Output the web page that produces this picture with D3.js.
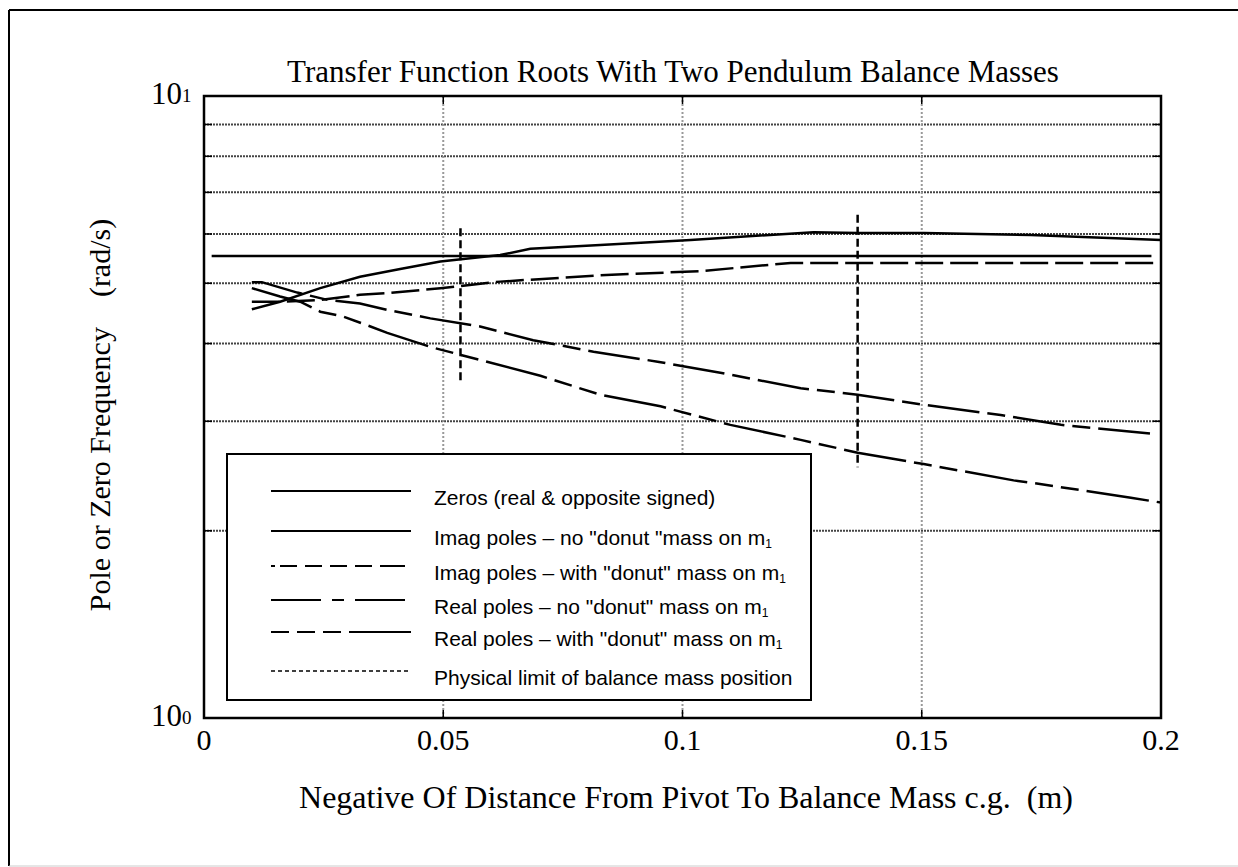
<!DOCTYPE html>
<html>
<head>
<meta charset="utf-8">
<script src="https://cdn.jsdelivr.net/npm/d3@7"></script>
<style>
  body { margin: 0; background: #fff; }
  text { white-space: pre; }
</style>
</head>
<body>
<div id="chart"></div>
<script>
// AXIS TICKS
var xTicks = [0, 0.05, 0.1, 0.15, 0.2];
var xTickLabels = ["0", "0.05", "0.1", "0.15", "0.2"];
var yMajor = [1, 10];
var yMajorExp = ["0", "1"];
var yMinor = [2, 3, 4, 5, 6, 7, 8, 9];

// ZEROS (REAL & OPPOSITE SIGNED)
var zerosX = [0.0016, 0.198];
var zerosY = [5.53, 5.53];

// IMAG POLES - NO DONUT
var imagNoDonutX = [0.0100, 0.0159, 0.0243, 0.0326, 0.0410, 0.0494, 0.0619, 0.0682, 0.0828, 0.1017, 0.1274, 0.1366, 0.1504, 0.1728, 0.2];
var imagNoDonutY = [4.54, 4.67, 4.91, 5.12, 5.27, 5.42, 5.55, 5.68, 5.76, 5.87, 6.04, 6.02, 6.02, 5.98, 5.87];

// IMAG POLES - WITH DONUT
var imagDonutX = [0.0100, 0.0159, 0.0243, 0.0326, 0.0383, 0.0494, 0.0619, 0.0828, 0.1038, 0.1226, 0.2];
var imagDonutY = [4.67, 4.67, 4.70, 4.79, 4.82, 4.91, 5.03, 5.15, 5.23, 5.39, 5.39];

// REAL POLES - NO DONUT
var realNoDonutX = [0.0100, 0.0121, 0.0195, 0.0259, 0.0326, 0.0383, 0.0473, 0.0577, 0.0688, 0.0814, 0.0948, 0.1079, 0.1247, 0.1366, 0.1502, 0.1665, 0.1791, 0.199];
var realNoDonutY = [5.02, 5.02, 4.83, 4.70, 4.64, 4.53, 4.39, 4.26, 4.05, 3.88, 3.74, 3.59, 3.39, 3.31, 3.19, 3.07, 2.96, 2.86];

// REAL POLES - WITH DONUT
var realDonutX = [0.0100, 0.0159, 0.0201, 0.0243, 0.0291, 0.0341, 0.0383, 0.0473, 0.0703, 0.0828, 0.0954, 0.1100, 0.1247, 0.1366, 0.1504, 0.1692, 0.1728, 0.1937, 0.2];
var realDonutY = [4.91, 4.76, 4.67, 4.50, 4.42, 4.28, 4.16, 3.95, 3.55, 3.31, 3.17, 2.96, 2.80, 2.67, 2.56, 2.41, 2.39, 2.26, 2.22];

// PHYSICAL LIMIT OF BALANCE MASS POSITION
var limitX = [0.0536, 0.1366];
var limitLow = [3.47, 2.53];
var limitHigh = [6.13, 6.44];

var legendLabels = [
  "Zeros (real & opposite signed)",
  "Imag poles \u2013 no \"donut \"mass on m",
  "Imag poles \u2013 with \"donut\" mass on m",
  "Real poles \u2013 no \"donut\" mass on m",
  "Real poles \u2013 with \"donut\" mass on m",
  "Physical limit of balance mass position"
];

var width = 1238,
    height = 867;

var serif = "Liberation Serif, Times New Roman, serif";

var svg = d3.select("#chart").append("svg")
  .attr("width", width)
  .attr("height", height);

svg.append("rect").attr("width", width).attr("height", height).attr("fill", "#fff");

// OUTER FRAME
svg.append("line").attr("x1", 9).attr("y1", 10).attr("x2", width).attr("y2", 10)
  .attr("stroke", "#000").attr("stroke-width", 2);
svg.append("line").attr("x1", 9).attr("y1", 10).attr("x2", 9).attr("y2", 866)
  .attr("stroke", "#000").attr("stroke-width", 2);
svg.append("line").attr("x1", 9).attr("y1", 866).attr("x2", width).attr("y2", 866)
  .attr("stroke", "#ccc").attr("stroke-width", 1);

var xScale = d3.scaleLinear().domain([0, 0.2]).range([204, 1161]);
var yScale = d3.scaleLog().domain([1, 10]).range([718, 96]);

// GRID
svg.append("g").selectAll("line")
  .data(yMinor).enter().append("line")
  .attr("x1", xScale(0)).attr("x2", xScale(0.2))
  .attr("y1", function(d){ return yScale(d); })
  .attr("y2", function(d){ return yScale(d); })
  .attr("stroke", "#444").attr("stroke-width", 2)
  .attr("stroke-dasharray", "2,1");

svg.append("g").selectAll("line")
  .data(xTicks.slice(1, 4)).enter().append("line")
  .attr("x1", function(d){ return xScale(d); })
  .attr("x2", function(d){ return xScale(d); })
  .attr("y1", yScale(1)).attr("y2", yScale(10))
  .attr("stroke", "#999").attr("stroke-width", 2)
  .attr("stroke-dasharray", "2,2");

// TICKS INSIDE THE BOX
var tickG = svg.append("g").attr("stroke", "#000").attr("stroke-width", 1.5);
yMinor.forEach(function(v){
  tickG.append("line").attr("x1", xScale(0)).attr("x2", xScale(0) + 8)
    .attr("y1", yScale(v)).attr("y2", yScale(v));
  tickG.append("line").attr("x1", xScale(0.2)).attr("x2", xScale(0.2) - 8)
    .attr("y1", yScale(v)).attr("y2", yScale(v));
});
xTicks.forEach(function(v){
  tickG.append("line").attr("x1", xScale(v)).attr("x2", xScale(v))
    .attr("y1", yScale(1)).attr("y2", yScale(1) - 8);
  tickG.append("line").attr("x1", xScale(v)).attr("x2", xScale(v))
    .attr("y1", yScale(10)).attr("y2", yScale(10) + 8);
});

// DATA LINES
var line = d3.line()
  .x(function(d){ return xScale(d[0]); })
  .y(function(d){ return yScale(d[1]); });

function pairs(xs, ys){
  return xs.map(function(x, i){ return [x, ys[i]]; });
}

var series = [
  {data: pairs(zerosX, zerosY), dash: null},
  {data: pairs(imagNoDonutX, imagNoDonutY), dash: null},
  {data: pairs(imagDonutX, imagDonutY), dash: "28,7"},
  {data: pairs(realNoDonutX, realNoDonutY), dash: "52,8,18,8"},
  {data: pairs(realDonutX, realDonutY), dash: "63,8,18,8,18,8"}
];

svg.append("g").selectAll("path")
  .data(series).enter().append("path")
  .attr("d", function(d){ return line(d.data); })
  .attr("fill", "none")
  .attr("stroke", "#000")
  .attr("stroke-width", 2.5)
  .attr("stroke-dasharray", function(d){ return d.dash; });

svg.append("g").selectAll("line")
  .data(limitX).enter().append("line")
  .attr("x1", function(d){ return xScale(d); })
  .attr("x2", function(d){ return xScale(d); })
  .attr("y1", function(d, i){ return yScale(limitHigh[i]); })
  .attr("y2", function(d, i){ return yScale(limitLow[i]); })
  .attr("stroke", "#000").attr("stroke-width", 2.5)
  .attr("stroke-dasharray", "8,4");

// AXES BOX
svg.append("rect")
  .attr("x", xScale(0)).attr("y", yScale(10))
  .attr("width", xScale(0.2) - xScale(0))
  .attr("height", yScale(1) - yScale(10))
  .attr("fill", "none").attr("stroke", "#000").attr("stroke-width", 2.5);

// TICK LABELS
svg.append("g").selectAll("text")
  .data(xTicks).enter().append("text")
  .attr("x", function(d){ return xScale(d); })
  .attr("y", 750)
  .attr("text-anchor", "middle")
  .attr("font-family", serif)
  .attr("font-size", 30)
  .text(function(d, i){ return xTickLabels[i]; });

var yLab = svg.append("g").selectAll("text")
  .data(yMajor).enter().append("text")
  .attr("x", 151)
  .attr("y", function(d){ return yScale(d) + 8; })
  .attr("font-family", serif)
  .attr("font-size", 31);
yLab.append("tspan").text("10");
yLab.append("tspan").attr("font-size", 19).attr("dy", -2)
  .text(function(d, i){ return yMajorExp[i]; });

// TITLE AND AXIS LABELS
svg.append("text")
  .attr("x", 673).attr("y", 82)
  .attr("text-anchor", "middle")
  .attr("font-family", serif)
  .attr("font-size", 31)
  .text("Transfer Function Roots With Two Pendulum Balance Masses");

svg.append("text")
  .attr("x", 686).attr("y", 808)
  .attr("text-anchor", "middle")
  .attr("font-family", serif)
  .attr("font-size", 32)
  .text("Negative Of Distance From Pivot To Balance Mass c.g.  (m)");

svg.append("text")
  .attr("transform", "translate(110,415) rotate(-90)")
  .attr("text-anchor", "middle")
  .attr("font-family", serif)
  .attr("font-size", 30)
  .text("Pole or Zero Frequency    (rad/s)");

// LEGEND
var legend = svg.append("g");
legend.append("rect")
  .attr("x", 227).attr("y", 454)
  .attr("width", 584).attr("height", 246)
  .attr("fill", "#fff").attr("stroke", "#000").attr("stroke-width", 2);

var legendRows = [491, 531, 566, 600, 632, 671];
var legendDash = [null, null, "4,5,17,8,17,8,17,8,17,8,25,8", "50,11,12,11", "18,8,18,8,18,8,63,8", "4,3"];
var legendWidth = [2, 2, 2, 2, 2, 1.5];

legendRows.forEach(function(y, i){
  legend.append("line")
    .attr("x1", 271).attr("x2", 411)
    .attr("y1", y).attr("y2", y)
    .attr("stroke", "#000")
    .attr("stroke-width", legendWidth[i])
    .attr("stroke-dasharray", legendDash[i]);
  var t = legend.append("text")
    .attr("x", 434).attr("y", y + 14)
    .attr("font-family", "Liberation Sans, Arial, Helvetica, sans-serif")
    .attr("font-size", 21)
    .text(legendLabels[i]);
  if (i > 0 && i < 5) {
    t.append("tspan").attr("font-size", 12).attr("dy", 3).text("1");
  }
});
</script>
</body>
</html>
